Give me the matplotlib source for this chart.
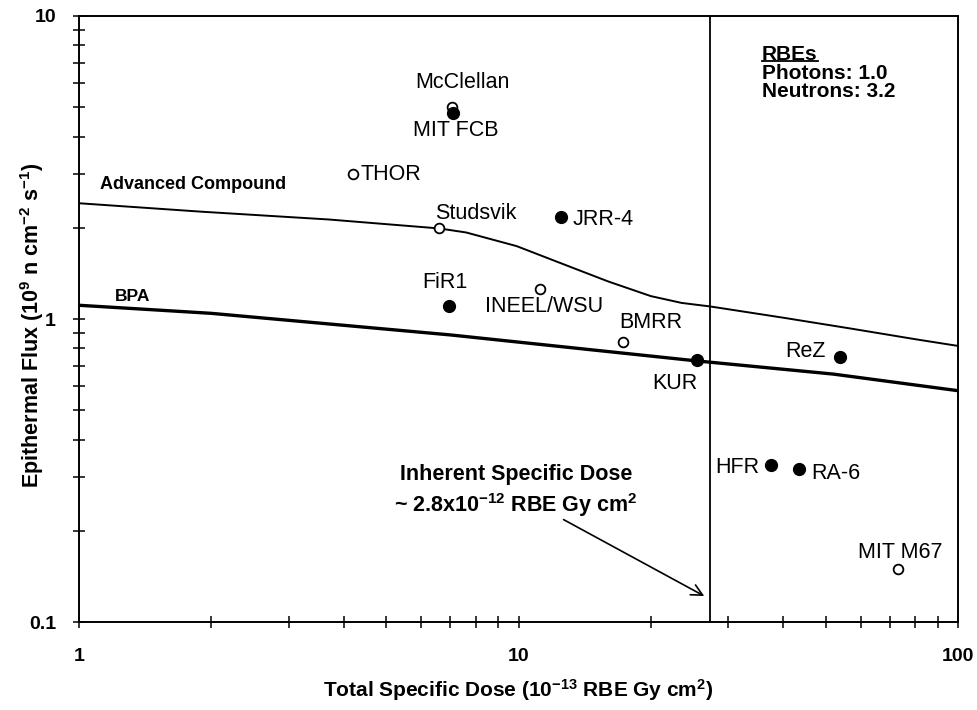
import matplotlib
matplotlib.use("Agg")
import matplotlib.pyplot as plt
from matplotlib.lines import Line2D

plt.rcParams['font.family'] = ['Liberation Sans', 'DejaVu Sans']
plt.rcParams['mathtext.fontset'] = 'custom'
plt.rcParams['mathtext.rm'] = 'Liberation Sans'
plt.rcParams['mathtext.bf'] = 'Liberation Sans:bold'
plt.rcParams['mathtext.default'] = 'regular'

# facility data (dose in 1e-13 RBE Gy cm2, flux in 1e9 n/cm2/s)
names = ['McClellan', 'MIT FCB', 'THOR', 'Studsvik', 'JRR-4', 'FiR1',
         'INEEL/WSU', 'BMRR', 'KUR', 'ReZ', 'HFR', 'RA-6', 'MIT M67']
dose = [7.06, 7.1, 4.2, 6.6, 12.5, 6.95, 11.2, 17.3, 25.5, 54.0, 37.5, 43.5, 73.0]
flux = [5.0, 4.8, 3.0, 1.99, 2.17, 1.10, 1.26, 0.84, 0.73, 0.75, 0.33, 0.32, 0.15]
filled = [False, True, False, False, True, True, False, False, True, True, True, True, False]

# limit curves
adv_x = [1, 1.9, 3.7, 6.6, 7.6, 9.9, 12.9, 16, 20, 23.5, 27.3, 40, 57, 81, 100]
adv_y = [2.41, 2.26, 2.13, 1.99, 1.93, 1.74, 1.50, 1.33, 1.19, 1.13, 1.10, 1.01, 0.93, 0.855, 0.815]
bpa_x = [1, 2, 7, 25.5, 52, 100]
bpa_y = [1.11, 1.044, 0.886, 0.727, 0.658, 0.58]

inherent_dose = 27.2

rbe_lines = ['RBEs', 'Photons: 1.0', 'Neutrons: 3.2']

# label offsets in pixels (dx, dy, ha)
label_pos = {
    'McClellan': (10, 25, 'center'),
    'MIT FCB': (3, -18, 'center'),
    'THOR': (8, 0, 'left'),
    'Studsvik': (-4, 15, 'left'),
    'JRR-4': (11, -2, 'left'),
    'FiR1': (-4, 24, 'center'),
    'INEEL/WSU': (4, -18, 'center'),
    'BMRR': (28, 19, 'center'),
    'KUR': (-22, -23, 'center'),
    'ReZ': (-35, 5, 'center'),
    'HFR': (-11, -3, 'right'),
    'RA-6': (12, -5, 'left'),
    'MIT M67': (2, 16, 'center'),
}

fig = plt.figure(figsize=(9.78, 7.10), dpi=100)
ax = fig.add_axes([0.0808, 0.1239, 0.8988, 0.8536])
ax.set_xscale('log')
ax.set_yscale('log')
ax.set_xlim(1, 100)
ax.set_ylim(0.1, 10)

ax.plot(adv_x, adv_y, color='black', lw=1.4, zorder=2)
ax.plot(bpa_x, bpa_y, color='black', lw=2.4, zorder=2)
ax.axvline(inherent_dose, color='black', lw=1.3, zorder=2)

for n, x, y, f in zip(names, dose, flux, filled):
    if f:
        ax.plot(x, y, 'o', ms=8.5, mfc='black', mec='black', zorder=4)
    else:
        ax.plot(x, y, 'o', ms=7, mfc='white', mec='black', mew=1.3, zorder=3)
    dx, dy, ha = label_pos[n]
    ax.annotate(n, (x, y), xytext=(dx, dy), textcoords='offset pixels',
                ha=ha, va='center', fontsize=15.5)

ax.text(1.116, 2.77, 'Advanced Compound', fontsize=13, fontweight='bold',
        ha='left', va='center')
ax.text(1.208, 1.19, 'BPA', fontsize=12.5, fontweight='bold', ha='left', va='center')

rbe_texts = []
for i, s in enumerate(rbe_lines):
    t = ax.text(0.777, 0.936 - i * 0.0305, s, transform=ax.transAxes, fontsize=15,
                fontweight='bold', ha='left', va='center')
    rbe_texts.append(t)

ax.text(9.87, 0.306, 'Inherent Specific Dose', fontsize=15.5, fontweight='bold',
        ha='center', va='center')
ax.text(9.87, 0.243, r'~ 2.8x10$^{-12}$ RBE Gy cm$^2$', fontsize=15.5,
        fontweight='bold', ha='center', va='center')
ax.annotate('', xy=(26.8, 0.1206), xytext=(12.5, 0.22),
            arrowprops=dict(arrowstyle='->', color='black', lw=1.2,
                            mutation_scale=20))

ax.set_xlabel(r'Total Specific Dose (10$^{-13}$ RBE Gy cm$^2$)', fontsize=15,
              fontweight='bold', va='center')
ax.xaxis.set_label_coords(0.5, -0.112)
ax.set_ylabel(r'Epithermal Flux (10$^9$ n cm$^{-2}$ s$^{-1}$)', fontsize=15.5,
              fontweight='bold', va='center')
ax.yaxis.set_label_coords(-0.0535, 0.49)

ax.set_xticks([1, 10, 100])
ax.set_xticklabels(['1', '10', '100'])
ax.set_yticks([0.1, 1, 10])
ax.set_yticklabels(['0.1', '1', '10'])
for lab in ax.get_xticklabels() + ax.get_yticklabels():
    lab.set_fontweight('bold')
ax.tick_params(which='both', direction='inout', length=9, width=1.1,
               labelsize=14, top=False, right=False)
ax.tick_params(axis='x', pad=14)
ax.tick_params(axis='y', pad=12)
for s in ax.spines.values():
    s.set_linewidth(1.4)

# underline the RBEs heading
fig.canvas.draw()
bb = rbe_texts[0].get_window_extent().transformed(fig.transFigure.inverted())
fig.add_artist(Line2D([bb.x0, bb.x1], [bb.y0 + 0.005, bb.y0 + 0.005],
                      transform=fig.transFigure, color='black', lw=1.3))

fig.savefig('out.png', dpi=100)
